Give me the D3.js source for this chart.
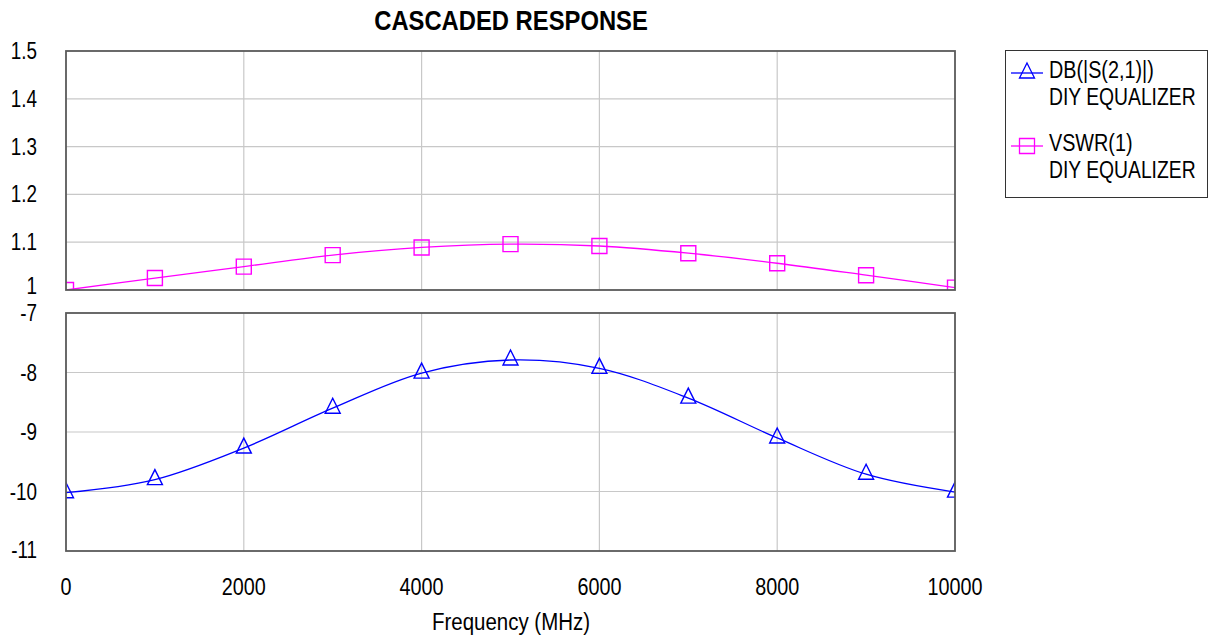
<!DOCTYPE html>
<html>
<head>
<meta charset="utf-8">
<script src="https://cdn.jsdelivr.net/npm/d3@7"></script>
<style>
	body { margin: 0; background: #fff; }
	text { font-family: "Liberation Sans", Arial, sans-serif; fill: #000; }
</style>
</head>
<body>
<div id="visualisation"></div>
<script>

// Données

var frequence = [0, 1000, 2000, 3000, 4000, 5000, 6000, 7000, 8000, 9000, 10000];
var vswr = [1.000, 1.025, 1.049, 1.073, 1.089, 1.096, 1.092, 1.077, 1.056, 1.031, 1.005];
var dbS21 = [-10.02, -9.80, -9.27, -8.60, -8.01, -7.79, -7.93, -8.43, -9.10, -9.71, -10.01];

var ticksX = [0, 2000, 4000, 6000, 8000, 10000];
var ticksHaut = [1, 1.1, 1.2, 1.3, 1.4, 1.5];
var ticksBas = [-11, -10, -9, -8, -7];

var titre = "CASCADED RESPONSE";
var labelX = "Frequency (MHz)";
var legende = [
	{"nom" : "DB(|S(2,1)|)", "source" : "DIY EQUALIZER", "couleur" : "#0000ff", "marque" : "triangle"},
	{"nom" : "VSWR(1)", "source" : "DIY EQUALIZER", "couleur" : "#ff00ff", "marque" : "carre"}
];


//Création du svg

var svg = d3.select("#visualisation")
			.append("svg")
			.attr("width", 1213)
			.attr("height", 641);

var x = d3.scaleLinear().domain([0, 10000]).range([66, 955]);
var yHaut = d3.scaleLinear().domain([1, 1.5]).range([290, 51]);
var yBas = d3.scaleLinear().domain([-11, -7]).range([551, 313]);

var police = 23;


// Titre

svg.append("text")
	.attr("x", 511)
	.attr("y", 30)
	.attr("text-anchor", "middle")
	.style("font-size", "28px")
	.style("font-weight", "bold")
	.text(titre)
	.call(etroit, 0.85);


// Les deux panneaux (décalage du label le plus bas pour ne pas toucher le panneau suivant)

creerPanneau("haut", yHaut, ticksHaut, vswr, "#ff00ff", "carre", 4);
creerPanneau("bas", yBas, ticksBas, dbS21, "#0000ff", "triangle", 7);


// Axe des x (sous le panneau du bas)

svg.append("g")
	.selectAll("text")
	.data(ticksX)
	.enter()
		.append("text")
		.attr("x", function(d){return x(d);})
		.attr("y", 595)
		.attr("text-anchor", "middle")
		.style("font-size", police + "px")
		.text(function(d){return d;})
		.call(etroit, 0.86);

svg.append("text")
	.attr("x", 511)
	.attr("y", 630)
	.attr("text-anchor", "middle")
	.style("font-size", police + "px")
	.text(labelX)
	.call(etroit, 0.89);


// Légende

var leg = svg.append("g").attr("id", "legende");

leg.append("rect")
	.attr("x", 1005.5)
	.attr("y", 50.5)
	.attr("width", 202)
	.attr("height", 147)
	.attr("fill", "#fff")
	.attr("stroke", "#333")
	.attr("stroke-width", 1);

legende.forEach(function(d, i)
{
	var yl = 73 + i * 73;

	leg.append("line")
		.attr("x1", 1011)
		.attr("x2", 1043)
		.attr("y1", yl)
		.attr("y2", yl)
		.attr("stroke", d.couleur)
		.attr("stroke-width", 1.3);

	leg.append("path")
		.attr("d", marque(d.marque, 1027, yl))
		.attr("fill", "none")
		.attr("stroke", d.couleur)
		.attr("stroke-width", 1.3);

	leg.append("text")
		.attr("x", 1049)
		.attr("y", yl + 5)
		.style("font-size", police + "px")
		.text(d.nom)
		.call(etroit, 0.86);

	leg.append("text")
		.attr("x", 1049)
		.attr("y", yl + 32)
		.style("font-size", police + "px")
		.text(d.source)
		.call(etroit, 0.84);
});



/* Crée un panneau : grille, cadre, labels de l'axe y, courbe et marques
   Les marques sont coupées par le cadre (clipPath) comme sur l'original */
function creerPanneau(nom, y, ticks, valeurs, couleur, typeMarque, decalBas)
{
	var g = svg.append("g").attr("id", "panneau_" + nom);
	var x0 = x.range()[0], x1 = x.range()[1];
	var y0 = y.range()[1], y1 = y.range()[0];

	g.append("clipPath")
		.attr("id", "clip_" + nom)
		.append("rect")
			.attr("x", x0)
			.attr("y", y0)
			.attr("width", x1 - x0)
			.attr("height", y1 - y0);

	// grille
	g.selectAll(".grilleX")
		.data(ticksX.slice(1, -1))
		.enter()
			.append("line")
			.attr("x1", function(d){return x(d);})
			.attr("x2", function(d){return x(d);})
			.attr("y1", y0)
			.attr("y2", y1)
			.attr("stroke", "#c8c8c8")
			.attr("stroke-width", 1.2);

	g.selectAll(".grilleY")
		.data(ticks.slice(1, -1))
		.enter()
			.append("line")
			.attr("x1", x0)
			.attr("x2", x1)
			.attr("y1", function(d){return y(d);})
			.attr("y2", function(d){return y(d);})
			.attr("stroke", "#c8c8c8")
			.attr("stroke-width", 1.2);

	// labels y
	g.selectAll(".labelY")
		.data(ticks)
		.enter()
			.append("text")
			.attr("x", 37)
			.attr("y", function(d, i){return y(d) + (i == 0 ? decalBas : 8);})
			.attr("text-anchor", "end")
			.style("font-size", police + "px")
			.text(function(d){return d;})
			.call(etroit, 0.82);

	// courbe
	var ligne = d3.line()
		.x(function(d, i){return x(frequence[i]);})
		.y(function(d){return y(d);})
		.curve(d3.curveCatmullRom.alpha(0.5));

	var contenu = g.append("g").attr("clip-path", "url(#clip_" + nom + ")");

	contenu.append("path")
		.attr("d", ligne(valeurs))
		.attr("fill", "none")
		.attr("stroke", couleur)
		.attr("stroke-width", 1.3);

	contenu.selectAll(".marque")
		.data(valeurs)
		.enter()
			.append("path")
			.attr("d", function(d, i){return marque(typeMarque, x(frequence[i]), y(d));})
			.attr("fill", "none")
			.attr("stroke", couleur)
			.attr("stroke-width", 1.4);

	// cadre
	g.append("rect")
		.attr("x", x0)
		.attr("y", y0)
		.attr("width", x1 - x0)
		.attr("height", y1 - y0)
		.attr("fill", "none")
		.attr("stroke", "#5a5a5a")
		.attr("stroke-width", 1.8);
}


// Chemin d'une marque (triangle ou carré) centrée sur (cx, cy)
function marque(type, cx, cy)
{
	if(type == "triangle")
	{
		return "M" + cx + "," + (cy - 10) + "L" + (cx + 7.5) + "," + (cy + 5) + "L" + (cx - 7.5) + "," + (cy + 5) + "Z";
	}
	return "M" + (cx - 7.5) + "," + (cy - 7.5) + "h15v15h-15Z";
}


// Resserre le texte horizontalement pour imiter une police étroite
function etroit(sel, k)
{
	sel.each(function()
	{
		var t = d3.select(this);
		var tx = +t.attr("x"), ty = +t.attr("y");
		t.attr("x", 0)
		 .attr("y", 0)
		 .attr("transform", "translate(" + tx + "," + ty + ") scale(" + k + ",1)");
	});
}

</script>
</body>
</html>
